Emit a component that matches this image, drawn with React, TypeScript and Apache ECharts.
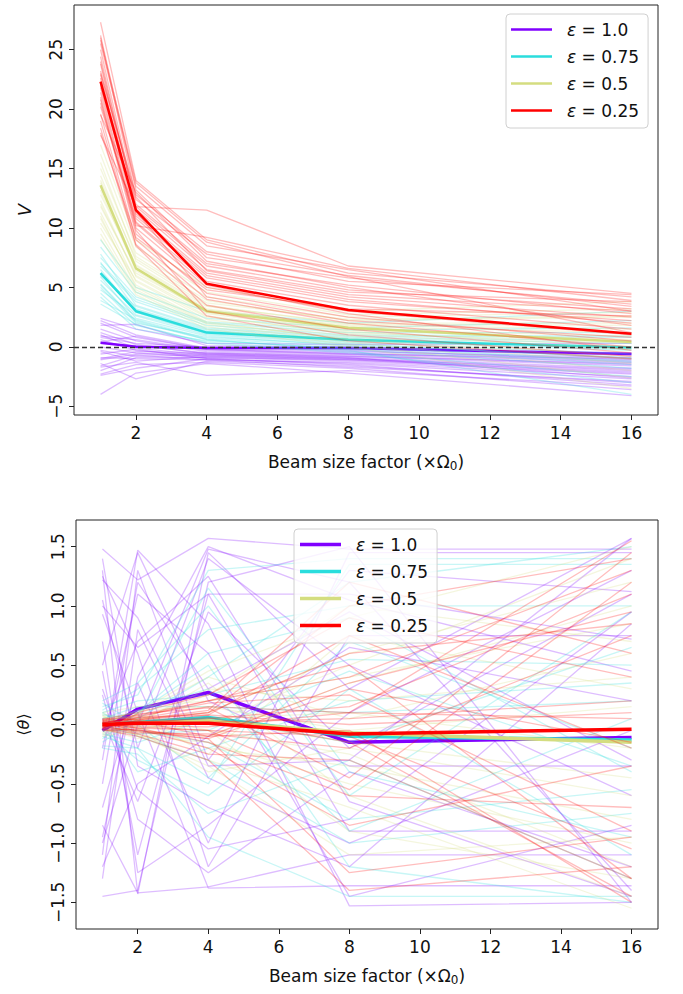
import React, { useEffect, useRef } from "react";
import * as echarts from "echarts";

const BEAM_FACTORS = [1, 2, 4, 8, 16];
const X_TICKS = [2, 4, 6, 8, 10, 12, 14, 16];
const V_TICKS = [-5, 0, 5, 10, 15, 20, 25];
const THETA_TICKS = [-1.5, -1.0, -0.5, 0, 0.5, 1.0, 1.5];
const EPS_LABELS = ["1.0", "0.75", "0.5", "0.25"];
const EPS_COLORS = ["#8000ff", "#2adddd", "#d4dd80", "#ff0000"];

// ---- Top panel: V, one row per run (values at beam factors 1,2,4,8,16)
const V_RUNS_EPS100 = [
  [2.4, 1.5, 0.3, 0.2, 0.3],
  [2.0, 0.8, -0.2, -0.4, -0.9],
  [1.8, 1.9, 0.1, 0.0, -0.5],
  [1.5, 0.5, -0.4, -0.6, -1.3],
  [1.2, 0.2, -0.6, -0.8, -1.6],
  [0.9, 0.6, -0.3, -0.5, -1.2],
  [0.6, -0.3, -0.8, -1.0, -2.0],
  [0.3, 0.1, -0.5, -0.7, -1.5],
  [0.0, -0.5, -0.9, -1.2, -2.3],
  [-0.3, -0.8, -0.7, -1.0, -1.9],
  [-0.6, -0.2, -1.0, -1.4, -2.7],
  [-0.9, -1.0, -1.1, -1.3, -2.5],
  [-1.1, -0.6, -0.6, -0.9, -1.8],
  [-1.4, -2.7, -1.2, -1.6, -3.0],
  [-1.7, -1.3, -2.4, -2.0, -3.3],
  [-2.0, -0.9, -0.9, -1.1, -2.2],
  [-2.3, -1.5, -1.3, -1.8, -3.6],
  [-1.0, -0.4, -0.5, -0.8, -1.4],
  [0.8, 0.3, 0.0, -0.2, -0.7],
  [-4.0, -2.2, -1.4, -2.2, -4.1],
  [2.2, 1.0, -0.1, -0.3, -1.1],
  [-0.4, -1.2, -0.8, -1.1, -2.1],
  [1.0, -0.1, -0.7, -0.9, -2.6],
  [-2.4, -1.8, -1.0, -1.5, -3.2],
  [0.4, 0.9, -0.2, -0.6, -1.0],
  [-1.6, -0.7, -1.1, -1.7, -2.9],
];
const V_RUNS_EPS075 = [
  [9.0, 5.0, 3.0, 2.0, 3.0],
  [8.4, 4.6, 2.4, 1.6, 2.2],
  [7.8, 3.5, 1.6, 0.9, 0.8],
  [7.5, 4.2, 2.1, 1.4, 1.6],
  [7.1, 3.2, 1.4, 0.6, -0.2],
  [6.8, 3.8, 1.8, 1.0, 0.9],
  [6.5, 2.9, 1.1, 0.4, -0.6],
  [6.2, 3.1, 1.3, 0.7, 0.3],
  [5.9, 2.4, 0.9, 0.1, -1.2],
  [5.6, 2.7, 1.2, 0.5, -0.3],
  [5.3, 2.2, 0.6, -0.2, -1.8],
  [5.0, 2.0, 0.8, 0.2, -0.9],
  [4.8, 2.6, 1.0, 0.3, -1.0],
  [4.5, 1.8, 0.4, -0.4, -2.5],
  [4.2, 1.5, 0.5, -0.1, -1.5],
  [3.9, 2.3, 0.7, 0.0, -1.3],
  [3.6, 1.9, 0.3, -0.5, -3.0],
  [6.0, 3.4, 1.5, 0.8, 0.5],
  [7.0, 4.0, 2.0, 1.2, 1.2],
  [5.2, 2.1, 0.6, -0.3, -4.0],
];
const V_RUNS_EPS050 = [
  [17.0, 9.0, 5.0, 3.0, 3.8],
  [16.2, 8.4, 4.6, 2.7, 3.2],
  [15.5, 7.6, 3.9, 2.2, 2.5],
  [15.0, 7.9, 4.2, 2.5, 2.9],
  [14.4, 7.2, 3.5, 1.9, 1.8],
  [13.8, 6.8, 3.2, 1.7, 1.2],
  [13.2, 6.4, 2.9, 1.4, 0.6],
  [12.8, 6.9, 3.4, 2.0, 2.0],
  [12.3, 5.9, 2.6, 1.1, -0.2],
  [11.8, 6.2, 3.0, 1.5, 0.9],
  [11.3, 5.5, 2.3, 0.9, -0.8],
  [10.8, 5.2, 2.1, 0.6, -1.4],
  [10.4, 5.6, 2.5, 1.2, 0.3],
  [10.0, 4.8, 1.9, 0.4, -2.0],
  [9.5, 4.6, 1.7, 0.2, -2.6],
  [9.1, 4.4, 1.5, 0.0, -3.5],
  [12.0, 6.0, 2.8, 1.3, 0.0],
  [14.0, 7.4, 3.7, 2.3, 2.6],
  [11.0, 5.0, 2.0, 0.7, -1.0],
  [13.5, 6.6, 3.1, 1.8, 1.5],
];
const V_RUNS_EPS025 = [
  [24.0, 11.8, 11.5, 6.8, 4.5],
  [27.3, 14.0, 9.0, 6.2, 4.2],
  [26.2, 13.2, 7.5, 5.8, 3.6],
  [25.5, 13.5, 8.5, 6.5, 3.0],
  [25.0, 12.0, 7.0, 5.2, 2.8],
  [24.4, 11.6, 6.5, 4.6, 3.8],
  [23.8, 11.0, 6.0, 4.0, 2.0],
  [23.2, 12.4, 7.8, 5.5, 4.4],
  [22.6, 10.5, 5.5, 3.5, 1.5],
  [22.0, 11.2, 6.2, 4.2, 2.5],
  [21.4, 10.0, 5.0, 3.0, 1.0],
  [20.8, 9.5, 4.5, 2.5, 0.5],
  [20.2, 10.8, 5.8, 3.8, 2.2],
  [19.6, 9.0, 4.0, 2.0, 0.0],
  [19.0, 8.6, 3.5, 1.5, -0.5],
  [18.4, 8.5, 2.6, 0.5, -1.0],
  [17.8, 11.8, 6.8, 4.8, 3.2],
  [23.0, 12.8, 8.0, 6.0, 3.4],
  [21.0, 9.8, 3.0, 1.0, -0.8],
  [19.5, 13.0, 7.2, 5.0, 1.8],
  [26.0, 12.6, 6.4, 4.4, 3.0],
  [21.8, 10.2, 9.2, 6.6, 3.9],
  [18.0, 9.2, 4.8, 3.2, 2.6],
  [25.8, 13.8, 8.8, 5.9, 1.2],
  [20.5, 10.4, 5.2, 2.8, -0.3],
  [22.9, 11.4, 4.2, 2.2, 0.8],
];
const V_MEAN_EPS100 = [0.34, 0.0, -0.1, -0.1, -0.6];
const V_MEAN_EPS075 = [6.2, 3.0, 1.2, 0.6, -0.05];
const V_MEAN_EPS050 = [13.6, 6.6, 3.0, 1.6, 0.4];
const V_MEAN_EPS025 = [22.3, 11.5, 5.3, 3.1, 1.1];

// ---- Bottom panel: <theta>
const THETA_RUNS_EPS100 = [
  [1.48, 1.22, 1.57, 1.48, 1.48],
  [1.3, -1.43, 1.45, 0.3, 1.57],
  [-1.45, -1.4, 1.2, 1.5, -1.5],
  [0.93, 0.1, -1.38, -1.36, -1.36],
  [-0.3, 1.47, 0.85, -1.53, -1.5],
  [1.25, 0.6, -1.2, 0.75, 0.75],
  [-1.1, 1.3, -0.3, 1.3, 1.12],
  [0.45, -1.1, 1.1, -0.9, -0.9],
  [-0.7, 0.35, -1.0, 1.45, 1.45],
  [0.05, -0.65, 0.95, -0.2, 1.1],
  [-1.3, 0.8, -0.45, -1.0, -0.05],
  [1.05, -0.2, 1.4, 0.5, -0.6],
  [-0.2, 1.1, 0.6, -1.45, -0.85],
  [0.7, -1.25, -0.85, 0.1, 1.3],
  [-0.95, 0.4, 1.5, 1.05, 0.45],
  [0.25, -0.8, -1.25, -0.4, -1.2],
  [-0.5, 1.2, 0.3, 0.95, -0.3],
  [1.4, -0.35, -0.7, -1.2, 0.85],
  [-0.05, 0.7, 1.25, -0.65, -1.45],
  [-1.2, -0.5, -0.1, 0.65, 0.2],
  [1.0, 0.65, 1.1, 1.1, 0.72],
  [-0.85, -1.42, -1.37, -1.1, -1.1],
  [0.5, 1.45, 0.2, -0.35, -0.35],
  [-1.0, 0.0, 1.48, 1.2, -1.4],
  [0.3, -0.55, -1.05, -0.8, 0.95],
  [1.22, 0.9, -0.35, -0.3, 1.57],
];
const THETA_RUNS_EPS075 = [
  [0.15, 0.25, 1.3, 1.4, 1.4],
  [-0.1, -0.2, -0.95, -1.45, -1.45],
  [0.05, 0.1, 0.6, 0.9, -0.4],
  [-0.05, -0.3, -0.6, 0.3, -1.1],
  [0.2, 0.35, 1.0, -0.6, 0.95],
  [-0.15, 0.05, 0.4, 1.2, 1.5],
  [0.0, -0.1, -0.3, -1.0, -0.75],
  [0.1, 0.2, 0.25, 0.55, 0.5],
  [-0.2, -0.25, -0.75, -0.3, -1.3],
  [0.05, 0.15, 0.15, 0.1, 0.2],
  [-0.05, -0.05, -0.15, -0.8, -0.55],
  [0.12, 0.3, 0.8, 1.0, 1.0],
  [-0.08, -0.15, 0.05, -0.15, 0.65],
  [0.18, 0.0, -0.45, 0.7, -0.2],
  [-0.12, 0.1, 0.5, -1.2, -1.5],
  [0.02, -0.4, -0.2, 0.2, 0.35],
  [0.08, 0.05, 1.15, -0.4, -0.95],
  [-0.18, -0.2, -0.5, 1.35, 1.35],
  [0.0, 0.12, 0.3, -0.9, 0.05],
  [0.1, -0.08, -0.05, 0.45, -0.35],
];
const THETA_RUNS_EPS050 = [
  [0.05, 0.1, 0.45, 0.9, 1.5],
  [-0.05, -0.08, -0.3, -0.7, -1.55],
  [0.1, 0.15, 0.2, 0.4, 0.85],
  [-0.1, -0.05, -0.4, -0.2, -0.6],
  [0.0, 0.05, 0.1, 0.6, 1.2],
  [0.08, -0.1, -0.15, -0.5, -1.0],
  [-0.08, 0.02, 0.3, 0.2, 0.4],
  [0.03, 0.08, -0.05, -0.9, -1.3],
  [-0.03, -0.12, 0.05, 0.1, -0.2],
  [0.06, 0.04, 0.25, 1.0, 0.7],
  [-0.06, -0.02, -0.2, -0.35, -0.8],
  [0.02, 0.12, 0.15, -0.05, 0.15],
  [-0.02, -0.06, -0.1, 0.35, 1.0],
  [0.04, 0.0, 0.35, -0.6, -1.45],
  [-0.04, 0.06, -0.25, 0.75, 0.3],
  [0.07, -0.04, 0.05, -0.15, -0.45],
  [-0.07, 0.09, 0.4, 0.05, 0.6],
  [0.01, -0.09, -0.35, -1.1, -0.95],
  [0.09, 0.03, 0.0, 0.5, 1.4],
  [-0.09, -0.01, -0.05, -0.25, -1.2],
];
const THETA_RUNS_EPS025 = [
  [0.02, 0.05, 0.15, 0.1, 1.55],
  [-0.02, -0.05, -0.1, -0.05, -1.5],
  [0.03, 0.08, 0.2, 0.4, 1.3],
  [-0.03, -0.08, -0.25, -0.3, -1.3],
  [0.01, 0.02, 0.05, 0.15, 1.1],
  [-0.01, -0.02, -0.05, -0.1, -1.05],
  [0.04, 0.1, 0.25, 0.9, 0.4],
  [-0.04, -0.1, -0.3, -1.4, -1.2],
  [0.0, 0.03, 0.1, 0.6, 0.85],
  [0.02, -0.03, -0.15, -0.6, -0.7],
  [-0.02, 0.06, 0.08, 0.0, 0.1],
  [0.05, 0.04, 0.12, 1.2, 0.6],
  [-0.05, -0.04, -0.2, -0.85, -0.35],
  [0.01, 0.07, 0.18, 0.25, -0.9],
  [-0.01, -0.07, -0.08, -0.2, 0.75],
  [0.03, 0.0, 0.02, 0.05, 0.2],
  [-0.03, 0.09, 0.14, -0.45, 1.45],
  [0.02, -0.06, -0.12, 0.3, -0.15],
  [-0.02, 0.01, 0.06, -0.15, -1.45],
  [0.0, -0.01, -0.02, 0.1, 0.05],
  [0.02, 0.04, 0.1, 1.0, 1.4],
  [-0.03, -0.05, -0.12, -1.25, -0.95],
  [0.01, 0.06, 0.2, 0.5, -1.3],
  [-0.01, -0.03, -0.05, -0.55, 1.2],
  [0.04, 0.02, 0.08, 0.75, -0.2],
  [-0.02, 0.03, -0.1, 0.35, 0.95],
];
const THETA_MEAN_EPS100 = [-0.05, 0.13, 0.27, -0.15, -0.11];
const THETA_MEAN_EPS075 = [0.0, 0.02, 0.06, -0.1, -0.13];
const THETA_MEAN_EPS050 = [0.0, 0.01, 0.03, -0.07, -0.15];
const THETA_MEAN_EPS025 = [0.0, 0.01, 0.01, -0.08, -0.04];

const FONT = "DejaVu Sans";
const TXT = "#111";

const toMinus = (s: string) => s.replace("-", "\u2212");

export default function App() {
  const ref = useRef<HTMLDivElement>(null);
  useEffect(() => {
    if (!ref.current) return;
    const chart = echarts.init(ref.current, null, { renderer: "svg" });

    const topRuns = [V_RUNS_EPS100, V_RUNS_EPS075, V_RUNS_EPS050, V_RUNS_EPS025];
    const topMeans = [V_MEAN_EPS100, V_MEAN_EPS075, V_MEAN_EPS050, V_MEAN_EPS025];
    const botRuns = [THETA_RUNS_EPS100, THETA_RUNS_EPS075, THETA_RUNS_EPS050, THETA_RUNS_EPS025];
    const botMeans = [THETA_MEAN_EPS100, THETA_MEAN_EPS075, THETA_MEAN_EPS050, THETA_MEAN_EPS025];

    const series: any[] = [];
    const build = (idx: number, runs: number[][][], means: number[][], meanWidth: number) => {
      for (let g = 0; g < 4; g++) {
        const color = EPS_COLORS[g];
        runs[g].forEach((run, k) => {
          series.push({
            type: "line",
            name: `run-${idx}-${g}-${k}`,
            xAxisIndex: idx,
            yAxisIndex: idx,
            data: run.map((v, i) => [BEAM_FACTORS[i], v]),
            symbol: "none",
            silent: true,
            lineStyle: { color, width: 1.3, opacity: 0.26 },
            itemStyle: { color },
            z: 2,
          });
        });
        series.push({
          type: "line",
          name: `ε = ${EPS_LABELS[g]}`,
          xAxisIndex: idx,
          yAxisIndex: idx,
          data: means[g].map((v, i) => [BEAM_FACTORS[i], v]),
          symbol: "none",
          silent: true,
          lineStyle: { color, width: meanWidth },
          itemStyle: { color },
          z: 2,
        });
      }
    };
    build(0, topRuns, topMeans, 2.5);
    build(1, botRuns, botMeans, 3.5);
    series.push({
      type: "line",
      name: "zero",
      xAxisIndex: 0,
      yAxisIndex: 0,
      data: [],
      symbol: "none",
      z: 3,
      markLine: {
        silent: true,
        symbol: "none",
        label: { show: false },
        lineStyle: { color: "#333", width: 1.3, type: [5, 3] },
        data: [{ yAxis: 0 }],
      },
    });

    const xAxisBase = (gridIndex: number) => ({
      type: "value",
      gridIndex,
      min: 0.25,
      max: 16.75,
      axisLine: { show: false, onZero: false },
      axisTick: {
        show: true,
        length: 5,
        customValues: X_TICKS,
        lineStyle: { color: "#222", width: 1 },
      },
      axisLabel: {
        customValues: X_TICKS,
        fontFamily: FONT,
        fontSize: 17,
        color: TXT,
        margin: 9,
      },
      splitLine: { show: false },
      name: "{m|Beam size factor (×Ω}{s|0}{m|)}",
      nameLocation: "middle",
      nameGap: 37,
      nameTextStyle: {
        rich: {
          m: { fontFamily: FONT, fontSize: 17, color: TXT, lineHeight: 20, verticalAlign: "middle" },
          s: { fontFamily: FONT, fontSize: 12, color: TXT, lineHeight: 11, verticalAlign: "bottom" },
        },
      },
    });

    const legendRich = {
      s: { width: 10 },
      e: { fontFamily: FONT, fontStyle: "italic", fontSize: 17, color: TXT, lineHeight: 20 },
      t: { fontFamily: FONT, fontSize: 17, color: TXT, lineHeight: 20 },
    };
    const legendFormatter = (name: string) => `{s|}{e|ε}{t| = ${name.split("= ")[1]}}`;
    const legendNames = EPS_LABELS.map((l) => `ε = ${l}`);

    const option: any = {
      animation: false,
      backgroundColor: "#fff",
      textStyle: { fontFamily: FONT },
      grid: [
        { left: 74, top: 5, width: 584, height: 410, show: true, borderColor: "#222", borderWidth: 1, backgroundColor: "transparent" },
        { left: 76, top: 520, width: 582, height: 409, show: true, borderColor: "#222", borderWidth: 1, backgroundColor: "transparent" },
      ],
      xAxis: [xAxisBase(0), xAxisBase(1)],
      yAxis: [
        {
          type: "value",
          gridIndex: 0,
          min: -5.73,
          max: 28.75,
          axisLine: { show: false, onZero: false },
          axisTick: { show: true, length: 5, customValues: V_TICKS, lineStyle: { color: "#222" } },
          axisLabel: {
            customValues: V_TICKS,
            rotate: 90,
            fontFamily: FONT,
            fontSize: 17,
            color: TXT,
            margin: 10,
            formatter: (v: number) => toMinus(String(v)),
          },
          splitLine: { show: false },
          name: "V",
          nameLocation: "middle",
          nameRotate: 90,
          nameGap: 41,
          nameTextStyle: { fontFamily: FONT, fontSize: 18, fontStyle: "italic", color: TXT },
        },
        {
          type: "value",
          gridIndex: 1,
          min: -1.725,
          max: 1.725,
          axisLine: { show: false, onZero: false },
          axisTick: { show: true, length: 5, customValues: THETA_TICKS, lineStyle: { color: "#222" } },
          axisLabel: {
            customValues: THETA_TICKS,
            rotate: 90,
            fontFamily: FONT,
            fontSize: 17,
            color: TXT,
            margin: 10,
            formatter: (v: number) => toMinus(v.toFixed(1)),
          },
          splitLine: { show: false },
          name: "{a|⟨}{b|θ}{a|⟩}",
          nameLocation: "middle",
          nameRotate: 90,
          nameGap: 45,
          nameTextStyle: {
            rich: {
              a: { fontFamily: FONT, fontSize: 16, color: TXT },
              b: { fontFamily: FONT, fontSize: 16, fontStyle: "italic", color: TXT },
            },
          },
        },
      ],
      legend: [
        {
          data: legendNames,
          left: 506,
          top: 14,
          orient: "vertical",
          icon: "rect",
          itemWidth: 41,
          itemHeight: 2.5,
          itemGap: 10,
          padding: [7, 9, 9, 5],
          borderColor: "#d0d0d0",
          borderWidth: 1,
          borderRadius: 4,
          backgroundColor: "rgba(255,255,255,0.8)",
          selectedMode: false,
          formatter: legendFormatter,
          textStyle: { rich: legendRich },
        },
        {
          data: legendNames,
          left: 294,
          top: 529,
          orient: "vertical",
          icon: "rect",
          itemWidth: 41,
          itemHeight: 3.5,
          itemGap: 10,
          padding: [7, 9, 9, 6],
          borderColor: "#d0d0d0",
          borderWidth: 1,
          borderRadius: 4,
          backgroundColor: "rgba(255,255,255,0.8)",
          selectedMode: false,
          formatter: legendFormatter,
          textStyle: { rich: legendRich },
        },
      ],
      series,
    };
    chart.setOption(option);
    return () => chart.dispose();
  }, []);

  return (
    <div
      ref={ref}
      style={{ position: "absolute", left: 0, top: 0, width: 683, height: 994, background: "#fff" }}
    />
  );
}
